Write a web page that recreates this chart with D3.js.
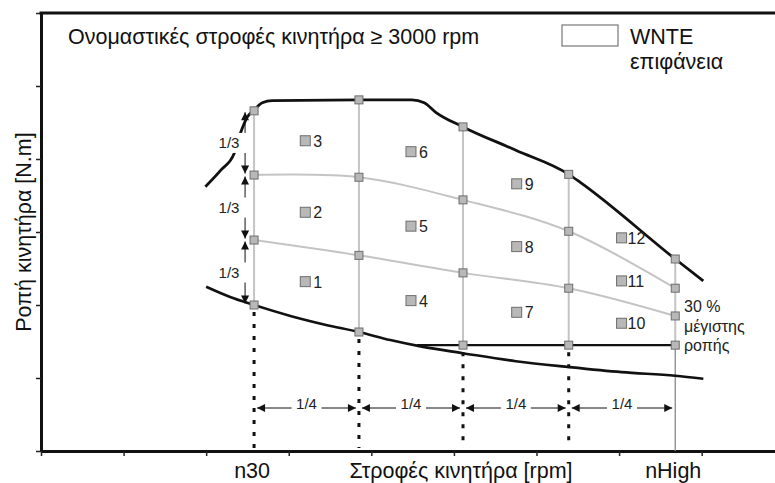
<!DOCTYPE html>
<html><head><meta charset="utf-8">
<script src="https://cdn.jsdelivr.net/npm/d3@7"></script>
<style>
html,body{margin:0;padding:0;background:#fff;}
svg{display:block;font-family:"Liberation Sans",Arial,sans-serif;}
</style></head>
<body><svg id="c" width="775" height="483"></svg>
<script>
// ---- data (x: engine speed units, y: torque units) ----
const gridX          = [2.58, 3.85, 5.11, 6.39, 7.68];
const gridLabels     = ["n30", "", "", "", "nHigh"];
const maxAtGrid      = [4.66, 4.81, 4.44, 3.79, 2.63];
const upperThird     = [3.78, 3.75, 3.44, 3.01, 2.23];
const lowerThird     = [2.89, 2.68, 2.44, 2.23, 1.85];
const minAtGrid      = [2.00, 1.63, 1.45, 1.45, 1.45];

const maxCurveX = [1.99, 2.18, 2.34, 2.42, 2.50, 2.58, 2.68, 2.80, 3.85, 4.49, 4.64, 4.78, 5.11, 5.75, 6.39, 6.53, 7.68, 8.02];
const maxCurveY = [3.62, 3.85, 4.08, 4.37, 4.58, 4.67, 4.77, 4.80, 4.81, 4.81, 4.77, 4.64, 4.44, 4.12, 3.79, 3.68, 2.63, 2.33];

const minCurveX = [2.00, 2.29, 2.58, 3.02, 3.44, 3.85, 4.23, 4.61, 5.11, 5.75, 6.39, 7.03, 7.68, 8.02];
const minCurveY = [2.25, 2.11, 2.00, 1.85, 1.73, 1.63, 1.52, 1.43, 1.34, 1.23, 1.15, 1.08, 1.03, 0.99];

const pct30X = [4.55, 7.68];
const pct30Y = [1.45, 1.45];

const modeIds = ["1","2","3","4","5","6","7","8","9","10","11","12"];
const modeX   = [3.20, 3.20, 3.20, 4.48, 4.48, 4.48, 5.76, 5.76, 5.76, 7.03, 7.03, 7.03];
const modeY   = [2.32, 3.27, 4.25, 2.06, 3.08, 4.10, 1.90, 2.80, 3.66, 1.75, 2.33, 2.92];

const yTicks = [0, 1, 2, 3, 4, 5, 6];
const xTicks = [0, 1, 2, 3, 4, 5, 6, 7, 8, 9];

const titleText = "Ονομαστικές στροφές κινητήρα ≥ 3000 rpm";
const legendLines = ["WNTE", "επιφάνεια"];
const yTitle = "Ροπή κινητήρα [N.m]";
const xTitle = "Στροφές κινητήρα [rpm]";
const pctLines = ["30 %", "μέγιστης", "ροπής"];
const thirdLabel = "1/3";
const quarterLabel = "1/4";

// ---- drawing ----
const svg = d3.select("#c");
const x = d3.scaleLinear().domain([0, 8.9]).range([41, 776]);
const y = d3.scaleLinear().domain([0, 6]).range([451, 13]);
const big = 21.5;

const defs = svg.append("defs");
defs.append("marker").attr("id","ah").attr("viewBox","0 0 10 10")
  .attr("refX",10).attr("refY",5).attr("markerWidth",10).attr("markerHeight",8)
  .attr("markerUnits","userSpaceOnUse").attr("orient","auto-start-reverse")
  .append("path").attr("d","M0,0L10,5L0,10Z").attr("fill","#111");

// axes
const ax = svg.append("g").attr("transform","translate(41,0)")
  .call(d3.axisLeft(y).tickValues(yTicks).tickSize(5).tickSizeOuter(0).tickFormat(""));
const bx = svg.append("g").attr("transform","translate(0,451)")
  .call(d3.axisBottom(x).tickValues(xTicks).tickSize(5).tickSizeOuter(0).tickFormat(""));
[ax,bx].forEach(g=>{
  g.select(".domain").attr("stroke","#111").attr("stroke-width",3);
  g.selectAll(".tick line").attr("stroke","#222").attr("stroke-width",1.5);
});
svg.append("line").attr("x1",x(0)-1.5).attr("x2",775).attr("y1",y(6)).attr("y2",y(6))
  .attr("stroke","#111").attr("stroke-width",3);

const pts = (xs, ys) => xs.map((v,i)=>[x(v), y(ys[i])]);
const smooth = d3.line().curve(d3.curveMonotoneX);
const lin = d3.line();

// vertical grey grid lines
gridX.forEach((gx,i)=>{
  svg.append("line").attr("x1",x(gx)).attr("x2",x(gx))
    .attr("y1",y(maxAtGrid[i])).attr("y2",y(minAtGrid[i]))
    .attr("stroke","#c4c4c4").attr("stroke-width",2);
});
// nHigh line down to axis
svg.append("line").attr("x1",x(gridX[4])).attr("x2",x(gridX[4]))
  .attr("y1",y(minAtGrid[4])).attr("y2",y(0))
  .attr("stroke","#888").attr("stroke-width",1.3);

// dotted verticals
gridX.slice(0,4).forEach((gx,i)=>{
  svg.append("line").attr("x1",x(gx)).attr("x2",x(gx))
    .attr("y1",y(minAtGrid[i])+7).attr("y2",y(0)-3)
    .attr("stroke","#111").attr("stroke-width",3).attr("stroke-dasharray","4,8");
});

// grey third lines
[upperThird, lowerThird].forEach(arr=>{
  svg.append("path").attr("d", d3.line().curve(d3.curveCatmullRom)(pts(gridX, arr)))
    .attr("fill","none").attr("stroke","#c4c4c4").attr("stroke-width",2);
});

// black curves
svg.append("path").attr("d", smooth(pts(maxCurveX, maxCurveY)))
  .attr("fill","none").attr("stroke","#111").attr("stroke-width",2.8).attr("stroke-linejoin","round");
svg.append("path").attr("d", smooth(pts(minCurveX, minCurveY)))
  .attr("fill","none").attr("stroke","#111").attr("stroke-width",2.6);
svg.append("path").attr("d", lin(pts(pct30X, pct30Y)))
  .attr("fill","none").attr("stroke","#111").attr("stroke-width",2.2);

// 1/3 arrows
const ax13 = x(gridX[0]) - 9;
const levels = [maxAtGrid[0], upperThird[0], lowerThird[0], minAtGrid[0]];
for (let i=0;i<3;i++){
  const y1 = y(levels[i]) + 1.5, y2 = y(levels[i+1]) - 1.5;
  svg.append("line").attr("x1",ax13).attr("x2",ax13).attr("y1",y1).attr("y2",y2)
    .attr("stroke","#111").attr("stroke-width",1)
    .attr("marker-start","url(#ah)").attr("marker-end","url(#ah)");
  const cy = (y1+y2)/2;
  svg.append("rect").attr("x",213).attr("y",cy-10).attr("width",35).attr("height",20).attr("fill","#fff");
  svg.append("text").attr("x",229).attr("y",cy+5).attr("text-anchor","middle")
    .attr("font-size",15).attr("fill","#222").text(thirdLabel);
}

// 1/4 arrows
const yq = 408;
for (let i=0;i<4;i++){
  const x1 = x(gridX[i]) + 3, x2 = x(gridX[i+1]) - 3;
  svg.append("line").attr("x1",x1).attr("x2",x2).attr("y1",yq).attr("y2",yq)
    .attr("stroke","#111").attr("stroke-width",1)
    .attr("marker-start","url(#ah)").attr("marker-end","url(#ah)");
  const cx = (x1+x2)/2;
  svg.append("rect").attr("x",cx-15).attr("y",yq-9).attr("width",30).attr("height",16).attr("fill","#fff");
  svg.append("text").attr("x",cx).attr("y",yq+1).attr("text-anchor","middle")
    .attr("font-size",15).attr("fill","#222").text(quarterLabel);
}

// grid point squares
const gs = 8;
[maxAtGrid, upperThird, lowerThird, minAtGrid].forEach(arr=>{
  gridX.forEach((gx,i)=>{
    svg.append("rect").attr("x",x(gx)-gs/2).attr("y",y(arr[i])-gs/2)
      .attr("width",gs).attr("height",gs)
      .attr("fill","#b8b8b8").attr("stroke","#6e6e6e").attr("stroke-width",1);
  });
});

// mode squares
const ms = 10;
modeIds.forEach((id,i)=>{
  const px = x(modeX[i]), py = y(modeY[i]);
  svg.append("rect").attr("x",px-ms/2).attr("y",py-ms/2).attr("width",ms).attr("height",ms)
    .attr("fill","#b8b8b8").attr("stroke","#6e6e6e").attr("stroke-width",1);
  svg.append("text").attr("x", px + ms/2 + (id.length>1?1:3)).attr("y", py+6)
    .attr("font-size",16).attr("fill","#222").text(id);
});

// titles
svg.append("text").attr("x",68).attr("y",44).attr("font-size",big).attr("fill","#111").text(titleText);
svg.append("rect").attr("x",562).attr("y",25).attr("width",56).attr("height",21)
  .attr("fill","#fff").attr("stroke","#777").attr("stroke-width",1.2);
legendLines.forEach((t,i)=>svg.append("text").attr("x",630).attr("y",44+i*25)
  .attr("font-size",big).attr("fill","#111").text(t));

svg.append("text").attr("transform","translate(31,232) rotate(-90)").attr("text-anchor","middle")
  .attr("font-size",big).attr("fill","#111").text(yTitle);

gridX.forEach((gx,i)=>{
  if (gridLabels[i]) svg.append("text").attr("x",x(gx)-2).attr("y",478).attr("text-anchor","middle")
    .attr("font-size",big).attr("fill","#111").text(gridLabels[i]);
});
svg.append("text").attr("x",461).attr("y",478).attr("text-anchor","middle")
  .attr("font-size",big).attr("fill","#111").text(xTitle);

pctLines.forEach((t,i)=>svg.append("text").attr("x",684).attr("y",312+i*19.5)
  .attr("font-size",16).attr("fill","#222").text(t));
</script>
</body></html>
